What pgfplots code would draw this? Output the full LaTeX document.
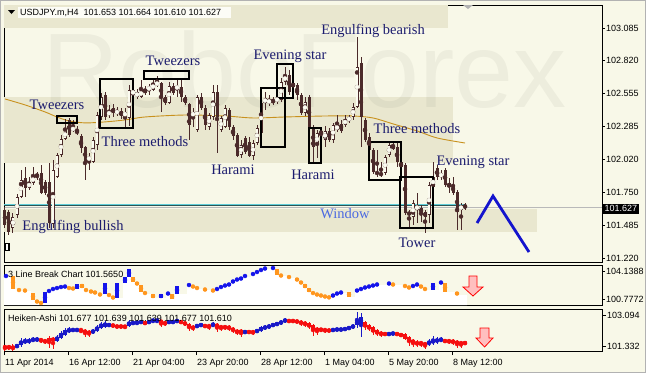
\documentclass[border=0pt]{standalone}
\usepackage{fontspec}
\setmainfont{Liberation Serif}
\setsansfont{Liberation Sans}
\usepackage{pgfplots}
\usepackage{pgfplotstable}
\pgfplotsset{compat=1.18}
\definecolor{bg}{RGB}{248,248,232}
\definecolor{band}{RGB}{233,231,207}
\definecolor{candle}{RGB}{75,42,42}
\definecolor{bullfill}{RGB}{251,251,240}
\definecolor{ann}{RGB}{28,28,110}
\definecolor{win}{RGB}{75,105,225}
\definecolor{ma}{RGB}{200,145,30}
\definecolor{cyanl}{RGB}{95,205,215}
\definecolor{teal2}{RGB}{45,85,85}
\definecolor{lbblue}{RGB}{20,20,235}
\definecolor{lborange}{RGB}{255,150,30}
\definecolor{hablue}{RGB}{25,25,200}
\definecolor{hared}{RGB}{245,15,15}
\definecolor{zz}{RGB}{20,20,205}
\newcommand\lab{\sffamily\fontsize{9}{10}\selectfont}
\newcommand\ann{\rmfamily\fontsize{14.5}{15}\selectfont}

\pgfplotstableread{
i o h l c
0 101.609 101.633 101.463 101.487
1 101.593 101.609 101.406 101.430
2 101.463 101.585 101.422 101.552
3 101.568 101.739 101.544 101.714
4 101.714 101.933 101.706 101.852
5 101.868 101.958 101.714 101.787
6 101.787 101.877 101.771 101.836
7 101.828 101.958 101.812 101.885
8 101.901 101.917 101.852 101.877
9 101.909 101.974 101.739 101.747
10 101.836 101.852 101.731 101.747
11 101.836 101.990 101.463 101.503
12 101.495 102.014 101.463 101.933
13 101.877 102.071 101.868 102.055
14 102.055 102.217 102.039 102.185
15 102.185 102.347 102.177 102.258
16 102.339 102.355 102.201 102.217
17 102.250 102.339 102.241 102.282
18 102.250 102.290 102.217 102.233
19 102.209 102.225 102.071 102.112
20 102.120 102.128 101.852 101.998
21 102.014 102.071 101.933 102.039
22 101.998 102.201 101.990 102.177
23 102.136 102.404 102.095 102.379
24 102.363 102.558 102.339 102.525
25 102.542 102.566 102.339 102.363
26 102.379 102.460 102.355 102.412
27 102.436 102.469 102.363 102.396
28 102.387 102.444 102.371 102.420
29 102.412 102.436 102.347 102.371
30 102.371 102.436 102.282 102.404
31 102.355 102.623 102.290 102.582
32 102.542 102.606 102.501 102.582
33 102.525 102.590 102.509 102.566
34 102.525 102.663 102.517 102.582
35 102.590 102.615 102.542 102.558
36 102.582 102.631 102.542 102.606
37 102.582 102.679 102.574 102.639
38 102.623 102.696 102.606 102.647
39 102.639 102.647 102.404 102.517
40 102.525 102.542 102.460 102.477
41 102.477 102.647 102.469 102.615
42 102.615 102.639 102.542 102.558
43 102.590 102.663 102.525 102.615
44 102.606 102.663 102.485 102.525
45 102.525 102.542 102.460 102.477
46 102.469 102.477 102.177 102.298
47 102.371 102.436 102.282 102.404
48 102.258 102.542 102.241 102.525
49 102.525 102.558 102.420 102.436
50 102.436 102.460 102.258 102.298
51 102.282 102.396 102.258 102.379
52 102.363 102.623 102.339 102.566
53 102.566 102.623 102.071 102.363
54 102.258 102.371 102.241 102.355
55 102.282 102.460 102.274 102.436
56 102.420 102.436 102.258 102.282
57 102.282 102.298 102.177 102.209
58 102.217 102.233 102.039 102.047
59 102.055 102.177 102.031 102.136
60 102.193 102.209 102.063 102.079
61 102.160 102.201 102.039 102.047
62 102.047 102.177 102.014 102.152
63 102.152 102.298 102.136 102.274
64 102.233 102.558 102.209 102.477
65 102.477 102.566 102.420 102.517
66 102.477 102.542 102.452 102.501
67 102.501 102.525 102.460 102.485
68 102.493 102.542 102.469 102.517
69 102.501 102.679 102.485 102.647
70 102.647 102.769 102.623 102.704
71 102.704 102.744 102.542 102.566
72 102.639 102.663 102.582 102.606
73 102.623 102.639 102.501 102.542
74 102.542 102.558 102.379 102.396
75 102.396 102.525 102.371 102.485
76 102.525 102.542 102.258 102.282
77 102.274 102.298 101.998 102.120
78 102.136 102.258 102.031 102.233
79 102.250 102.274 102.177 102.225
80 102.177 102.290 102.120 102.250
81 102.250 102.274 102.160 102.177
82 102.177 102.314 102.152 102.298
83 102.258 102.379 102.241 102.298
84 102.306 102.339 102.233 102.250
85 102.298 102.379 102.282 102.347
86 102.331 102.379 102.314 102.363
87 102.363 102.477 102.339 102.444
88 102.444 103.012 102.436 102.769
89 102.801 102.850 102.120 102.363
90 102.339 102.355 102.160 102.177
91 102.201 102.233 102.087 102.095
92 102.095 102.112 101.901 101.917
93 101.917 102.095 101.877 101.901
94 101.909 101.998 101.877 101.893
95 101.909 102.055 101.893 102.039
96 102.055 102.152 102.039 102.136
97 102.136 102.160 102.095 102.104
98 102.120 102.152 101.958 101.998
99 101.998 102.014 101.933 101.958
100 101.974 101.990 101.568 101.585
101 101.593 101.609 101.471 101.568
102 101.552 101.690 101.487 101.666
103 101.609 101.747 101.503 101.649
104 101.625 101.649 101.512 101.585
105 101.593 101.609 101.422 101.552
106 101.568 101.836 101.503 101.812
107 101.795 101.998 101.633 101.877
108 101.950 101.974 101.852 101.877
109 101.877 101.933 101.852 101.909
110 101.933 101.950 101.795 101.812
111 101.828 101.868 101.747 101.795
112 101.812 101.877 101.731 101.747
113 101.755 101.771 101.447 101.593
114 101.609 101.666 101.447 101.649
115 101.653 101.664 101.610 101.627
}\maindata

\pgfplotstableread{
i o h l c
0 101.332 101.389 101.048 101.218
1 101.332 101.389 101.105 101.218
2 101.275 101.446 101.048 101.161
3 101.275 101.446 101.218 101.389
4 101.389 101.787 101.275 101.616
5 101.502 101.787 101.446 101.673
6 101.559 101.787 101.446 101.673
7 101.616 101.844 101.559 101.730
8 101.673 101.844 101.559 101.730
9 101.730 101.787 101.502 101.616
10 101.673 101.730 101.446 101.559
11 101.787 101.900 101.218 101.559
12 101.787 101.844 101.161 101.616
13 101.616 101.957 101.559 101.844
14 101.787 102.185 101.730 102.071
15 101.957 102.355 101.900 102.241
16 102.128 102.412 102.071 102.298
17 102.185 102.355 102.128 102.298
18 102.185 102.355 102.128 102.298
19 102.298 102.298 102.071 102.185
20 102.241 102.298 101.844 102.071
21 102.185 102.241 101.844 102.014
22 102.071 102.298 102.014 102.241
23 102.185 102.526 102.128 102.412
24 102.355 102.696 102.298 102.582
25 102.412 102.753 102.355 102.639
26 102.469 102.639 102.412 102.582
27 102.526 102.582 102.412 102.469
28 102.469 102.526 102.355 102.412
29 102.469 102.526 102.355 102.412
30 102.469 102.526 102.298 102.412
31 102.469 102.810 102.412 102.696
32 102.582 102.753 102.526 102.696
33 102.582 102.810 102.526 102.696
34 102.639 102.810 102.582 102.753
35 102.696 102.753 102.526 102.582
36 102.639 102.810 102.582 102.753
37 102.696 102.923 102.639 102.810
38 102.696 102.923 102.639 102.810
39 102.810 102.810 102.412 102.639
40 102.696 102.753 102.469 102.582
41 102.639 102.810 102.582 102.753
42 102.639 102.810 102.582 102.753
43 102.696 102.867 102.639 102.810
44 102.753 102.810 102.582 102.639
45 102.696 102.753 102.469 102.526
46 102.582 102.639 102.185 102.355
47 102.469 102.526 102.185 102.298
48 102.412 102.582 102.355 102.526
49 102.469 102.639 102.412 102.582
50 102.526 102.582 102.355 102.412
51 102.526 102.582 102.241 102.412
52 102.469 102.696 102.412 102.582
53 102.582 102.639 102.128 102.412
54 102.469 102.526 102.185 102.355
55 102.469 102.526 102.241 102.355
56 102.469 102.526 102.185 102.298
57 102.355 102.412 102.071 102.185
58 102.241 102.298 101.957 102.071
59 102.241 102.298 101.844 102.071
60 102.071 102.241 102.014 102.185
61 102.185 102.241 102.014 102.071
62 102.185 102.241 101.957 102.071
63 102.128 102.298 102.071 102.241
64 102.185 102.469 102.128 102.412
65 102.298 102.526 102.241 102.469
66 102.355 102.582 102.298 102.526
67 102.469 102.639 102.412 102.582
68 102.526 102.696 102.469 102.639
69 102.582 102.810 102.526 102.753
70 102.696 102.923 102.639 102.867
71 102.810 102.867 102.639 102.696
72 102.810 102.867 102.639 102.696
73 102.753 102.810 102.639 102.696
74 102.753 102.810 102.469 102.582
75 102.696 102.753 102.412 102.526
76 102.639 102.696 102.298 102.412
77 102.526 102.582 101.900 102.241
78 102.355 102.412 101.957 102.185
79 102.298 102.355 102.128 102.241
80 102.298 102.355 102.071 102.185
81 102.241 102.298 102.128 102.185
82 102.185 102.355 102.128 102.298
83 102.241 102.355 102.185 102.298
84 102.241 102.355 102.185 102.298
85 102.241 102.412 102.185 102.355
86 102.298 102.469 102.241 102.412
87 102.355 102.582 102.298 102.526
88 102.526 103.265 102.355 102.810
89 102.582 103.208 101.844 102.980
90 102.696 102.753 102.241 102.412
91 102.526 102.582 102.185 102.298
92 102.412 102.469 101.957 102.128
93 102.241 102.298 101.900 102.014
94 102.128 102.185 101.844 101.957
95 102.071 102.128 101.900 101.957
96 101.957 102.128 101.900 102.071
97 102.014 102.128 101.957 102.071
98 102.071 102.128 101.900 101.957
99 102.014 102.071 101.844 101.900
100 102.014 102.071 101.673 101.730
101 101.844 101.900 101.332 101.559
102 101.673 101.730 101.275 101.502
103 101.559 101.673 101.275 101.446
104 101.559 101.616 101.275 101.446
105 101.502 101.559 101.161 101.389
106 101.446 101.730 101.332 101.559
107 101.502 101.900 101.389 101.673
108 101.559 101.844 101.446 101.730
109 101.616 101.844 101.559 101.730
110 101.673 101.730 101.502 101.559
111 101.673 101.730 101.446 101.559
112 101.673 101.730 101.389 101.502
113 101.616 101.673 101.218 101.446
114 101.559 101.616 101.218 101.446
115 101.559 101.616 101.389 101.446
}\hadata

\pgfplotstableread{
i top bot t
0.25 103.659 103.419 1
2 103.539 101.978 0
3.5 101.978 101.738 0
5 101.858 101.738 0
7 101.498 100.658 0
8 100.658 100.297 0
9 100.417 100.177 0
10 101.618 100.297 1
11 101.858 101.618 1
12 102.098 101.858 1
13 102.218 101.978 1
14 102.338 102.098 1
15 102.338 102.218 1
16 102.218 101.978 0
17 102.098 101.978 0
18 102.578 101.978 1
19.25 102.578 102.098 0
20.25 101.978 101.738 0
21.5 101.858 101.498 0
22.5 101.738 101.378 0
23.75 101.378 101.258 0
25 102.698 101.378 1
26 101.378 101.138 0
27 101.138 100.778 0
28 102.698 100.898 1
30 103.419 102.698 1
31 104.379 103.419 1
32 103.419 102.818 0
33 102.818 102.458 0
34 102.458 101.618 0
35 101.618 101.378 0
37 101.378 100.898 0
39 101.378 100.898 1
40.75 101.498 101.378 1
41.75 101.378 100.778 0
43 102.338 101.378 1
46 102.578 102.338 1
47 102.338 102.218 0
48 102.218 101.978 0
50 101.978 101.858 0
52 101.858 101.738 0
53 102.098 101.858 1
54 102.338 102.098 1
55 102.458 102.338 1
56 102.698 102.338 1
57 103.058 102.698 1
58 103.179 103.058 1
59 103.419 103.058 1
60 103.659 103.419 1
62 103.899 103.659 1
63 104.139 103.899 1
64 104.379 104.139 1
65 104.499 104.379 1
67 104.619 104.379 1
68 104.379 103.659 0
69 103.659 103.539 0
71 103.539 103.299 0
73 103.299 102.938 0
74 102.938 102.578 0
75 102.578 102.098 0
76 102.098 101.618 0
77 101.618 101.378 0
78 101.378 101.258 0
79 101.258 101.138 0
80 101.138 101.018 0
81 101.018 100.934 0
82 101.378 101.018 1
83 101.498 101.378 1
84 101.618 101.498 1
86 101.618 101.018 0
88 101.978 101.618 1
89 102.098 101.858 1
90 102.218 102.098 1
91 102.338 102.218 1
92 102.458 102.338 1
93 102.578 102.458 1
96 102.698 102.578 1
97 102.578 102.458 0
100 102.458 102.218 0
101 102.218 102.098 0
102 102.458 102.218 1
103 102.578 102.458 1
104 102.458 102.098 0
105 102.098 101.858 0
107 102.698 101.858 1
109 102.818 102.698 1
110 102.698 101.618 0
113 101.618 101.258 0
}\lbdata

\pgfplotsset{panel/.style={scale only axis, width=598pt, xmin=-0.25, xmax=149.25,
  axis line style={line width=0.9pt, black}, tick align=outside,
  ytick pos=right, yticklabel pos=right, xtick=\empty, major tick length=3pt,
  every tick/.style={black, line width=0.6pt},
  yticklabel style={font=\lab, inner sep=1pt},
  axis background/.style={fill=bg}},
  wick/.style={only marks, mark=none, error bars/.cd, y dir=both, y explicit, error mark=none}}

\begin{document}
\begin{tikzpicture}
\path[use as bounding box] (0pt,0pt) rectangle (646pt,-373pt);
\fill[bg] (0pt,0pt) rectangle (646pt,-373pt);
\draw[gray!60, line width=1pt] (0.5pt,-0.5pt) rectangle (645.5pt,-372.5pt);

% ---------------- main price panel ----------------
\begin{axis}[panel, height=257pt, at={(4pt,-262pt)}, anchor=south west,
  ymin=101.187, ymax=103.271, clip=false,
  ytick={101.220,101.485,101.750,102.020,102.285,102.555,102.820,103.085},
  yticklabels={101.220,101.485,101.750,102.020,102.285,102.555,102.820,103.085}]
\fill[band] (axis cs:-0.25,103.085) rectangle (axis cs:110.75,103.271);
\fill[band] (axis cs:-0.25,101.990) rectangle (axis cs:112,102.525);
\fill[band] (axis cs:-0.25,101.430) rectangle (axis cs:132.9,101.617);
\node[anchor=base west, font=\sffamily\fontsize{106}{106}\selectfont, text=black, text opacity=0.045, inner sep=0pt] at (axis cs:9.25,102.436) {RoboForex};
\addplot[cyanl, line width=1pt] coordinates {(-0.25,101.655) (115.25,101.655)};
\addplot[teal2, line width=0.5pt] coordinates {(-0.25,101.645) (115.25,101.645)};
\addplot[gray!55, line width=0.6pt] coordinates {(-0.25,101.627) (149.25,101.627)};
\addplot[ma, line width=0.9pt, smooth] coordinates {(0,102.509) (5,102.461) (10,102.404) (13,102.363) (16,102.331) (20,102.315) (25,102.323) (30,102.339) (35,102.363) (45,102.379) (55,102.371) (62,102.355) (70,102.363) (80,102.371) (87,102.371) (92,102.355) (97,102.307) (103,102.250) (108,102.193) (115,102.152)};
% wicks
\addplot[candle, wick, error bar style={line width=1pt, candle}]
  table[x=i, y expr={(\thisrow{h}+\thisrow{l})/2}, y error expr={(\thisrow{h}-\thisrow{l})/2}] {\maindata};
% bear bodies
\addplot[candle, restrict expr to domain={\thisrow{o}-\thisrow{c}}{0:5}, wick, error bar style={line width=3pt, candle}]
  table[x=i, y expr={(\thisrow{o}+\thisrow{c})/2}, y error expr={max(abs(\thisrow{c}-\thisrow{o})/2,0.004)}] {\maindata};
% bull bodies
\addplot[candle, restrict expr to domain={\thisrow{c}-\thisrow{o}}{0:5}, wick, error bar style={line width=3pt, candle}]
  table[x=i, y expr={(\thisrow{o}+\thisrow{c})/2}, y error expr={max(abs(\thisrow{c}-\thisrow{o})/2,0.004)}] {\maindata};
\addplot[bullfill, restrict expr to domain={\thisrow{c}-\thisrow{o}}{0:5}, wick, error bar style={line width=1.1pt, bullfill}]
  table[x=i, y expr={(\thisrow{o}+\thisrow{c})/2}, y error expr={max(abs(\thisrow{c}-\thisrow{o})/2-0.008,0)}] {\maindata};
% pattern boxes
\begin{scope}[black, line width=1.6pt]
\draw (axis cs:13,102.314) rectangle (axis cs:18,102.371);
\draw (axis cs:23.75,102.274) rectangle (axis cs:32,102.671);
\draw (axis cs:34.75,102.671) rectangle (axis cs:46,102.736);
\draw (axis cs:64,102.120) rectangle (axis cs:70,102.598);
\draw (axis cs:68,102.517) rectangle (axis cs:72,102.793);
\draw (axis cs:76,101.990) rectangle (axis cs:79,102.274);
\draw (axis cs:91,101.852) rectangle (axis cs:99,102.160);
\draw (axis cs:98.75,101.463) rectangle (axis cs:107,101.877);
\end{scope}
% labels
\begin{scope}[every node/.style={font=\ann, text=ann, inner sep=0pt, anchor=base}]
\node at (axis cs:13,102.420) {Tweezers};
\node at (axis cs:35,102.120) {Three methods};
\node at (axis cs:42,102.777) {Tweezers};
\node at (axis cs:57,101.893) {Harami};
\node at (axis cs:71.25,102.833) {Evening star};
\node at (axis cs:77,101.860) {Harami};
\node at (axis cs:17,101.439) {Engulfing bullish};
\node at (axis cs:92,103.032) {Engulfing bearish};
\node at (axis cs:103,102.225) {Three methods};
\node at (axis cs:117,101.970) {Evening star};
\node[text=win] at (axis cs:85,101.536) {Window};
\node at (axis cs:103,101.301) {Tower};
\end{scope}
\draw[zz, line width=2.8pt] (axis cs:118,101.503) -- (axis cs:122,101.722) -- (axis cs:131,101.268);
\end{axis}
% title & decorations of main panel
\fill[white!60!bg] (18pt,-7pt) rectangle (231pt,-18pt);
\node[anchor=west, font=\lab, inner sep=0pt] at (20pt,-12.5pt) {USDJPY.m,H4\ \ 101.653 101.664 101.610 101.627};
\fill[black] (8pt,-10pt) -- (15pt,-10pt) -- (11.5pt,-14pt) -- cycle;
\fill[gray!60] (463pt,-5pt) -- (473pt,-5pt) -- (468pt,-9pt) -- cycle;
\draw[black, line width=1.3pt, fill=white] (5.5pt,-243.5pt) rectangle (9pt,-250.5pt);
\node[fill=black, text=white, font=\lab, inner sep=1.5pt, anchor=west, minimum height=10pt] at (603pt,-208.5pt) {101.627};

% ---------------- 3 line break panel ----------------
\begin{axis}[panel, height=40pt, at={(4pt,-305pt)}, anchor=south west,
  ymin=100.057, ymax=104.859,
  ytick={100.7772,104.1388}, yticklabels={100.7772,104.1388}]
\addplot[fill=white, draw=none, const plot mark left] table[x=i, y=v] {
i v
-0.25 103.419
1.5 101.978
3 101.738
4.5 101.738
6.5 100.658
7.5 100.297
8.5 100.177
9.5 100.297
10.5 101.618
11.5 101.858
12.5 101.978
13.5 102.098
14.5 102.218
15.5 101.978
18.75 102.098
19.75 101.738
21 101.498
22 101.378
23.25 101.258
24.5 101.378
25.5 101.138
26.5 100.778
27.5 100.898
29.5 102.698
30.5 103.419
31.5 102.818
32.5 102.458
33.5 101.618
34.5 101.378
36.5 100.898
40.25 101.378
41.25 100.778
42.5 101.378
45.5 102.338
46.5 102.218
47.5 101.978
49.5 101.858
51.5 101.738
52.5 101.858
53.5 102.098
54.5 102.338
56.5 102.698
57.5 103.058
59.5 103.419
61.5 103.659
62.5 103.899
63.5 104.139
64.5 104.379
67.5 103.659
68.5 103.539
70.5 103.299
72.5 102.938
73.5 102.578
74.5 102.098
75.5 101.618
76.5 101.378
77.5 101.258
78.5 101.138
79.5 101.018
80.5 100.934
81.5 101.018
82.5 101.378
83.5 101.498
85.5 101.018
87.5 101.618
88.5 101.858
89.5 102.098
90.5 102.218
91.5 102.338
92.5 102.458
95.5 102.578
96.5 102.458
99.5 102.218
100.5 102.098
101.5 102.218
102.5 102.458
103.5 102.098
104.5 101.858
106.5 101.858
108.5 102.698
109.5 101.618
112.5 101.258
115.5 101.258
} \closedcycle;
\addplot[lbblue, restrict expr to domain={\thisrow{t}}{0.5:1.5}, wick, error bar style={line width=3.8pt, lbblue}]
  table[x=i, y expr={(\thisrow{top}+\thisrow{bot})/2}, y error expr={max((\thisrow{top}-\thisrow{bot})/2,0.12)}] {\lbdata};
\addplot[lborange, restrict expr to domain={\thisrow{t}}{-0.5:0.5}, wick, error bar style={line width=3.8pt, lborange}]
  table[x=i, y expr={(\thisrow{top}+\thisrow{bot})/2}, y error expr={max((\thisrow{top}-\thisrow{bot})/2,0.12)}] {\lbdata};
\draw[red, fill=red!25, line width=0.8pt] (axis cs:116,103.539) -- (axis cs:118,103.539) -- (axis cs:118,102.218) -- (axis cs:119.5,102.218) -- (axis cs:117,101.138) -- (axis cs:114.5,102.218) -- (axis cs:116,102.218) -- cycle;
\end{axis}
\node[anchor=west, font=\lab, inner sep=0pt] at (8pt,-274.5pt) {3 Line Break Chart 101.5650};

% ---------------- Heiken-Ashi panel ----------------
\begin{axis}[panel, height=42pt, at={(4pt,-351pt)}, anchor=south west,
  ymin=101.048, ymax=103.435,
  ytick={101.332,103.094}, yticklabels={101.332,103.094},
  xtick={-0.25,15.75,31.75,47.75,63.75,79.75,95.75,111.75},
  xticklabels={11 Apr 2014,16 Apr 12:00,21 Apr 04:00,23 Apr 20:00,28 Apr 12:00,1 May 04:00,5 May 20:00,8 May 12:00},
  xtick pos=bottom, major tick length=4pt, xticklabel style={font=\lab, anchor=north west, inner sep=1pt, yshift=-3.5pt}]
\addplot[hablue, restrict expr to domain={\thisrow{c}-\thisrow{o}}{0:5}, wick, error bar style={line width=1pt, hablue}]
  table[x=i, y expr={(\thisrow{h}+\thisrow{l})/2}, y error expr={(\thisrow{h}-\thisrow{l})/2}] {\hadata};
\addplot[hared, restrict expr to domain={\thisrow{o}-\thisrow{c}}{0:5}, wick, error bar style={line width=1pt, hared}]
  table[x=i, y expr={(\thisrow{h}+\thisrow{l})/2}, y error expr={(\thisrow{h}-\thisrow{l})/2}] {\hadata};
\addplot[hablue, restrict expr to domain={\thisrow{c}-\thisrow{o}}{0:5}, wick, error bar style={line width=3.2pt, hablue}]
  table[x=i, y expr={(\thisrow{o}+\thisrow{c})/2}, y error expr={max(abs(\thisrow{c}-\thisrow{o})/2,0.06)}] {\hadata};
\addplot[hared, restrict expr to domain={\thisrow{o}-\thisrow{c}}{0:5}, wick, error bar style={line width=3.2pt, hared}]
  table[x=i, y expr={(\thisrow{o}+\thisrow{c})/2}, y error expr={max(abs(\thisrow{c}-\thisrow{o})/2,0.06)}] {\hadata};
\draw[red, fill=red!25, line width=0.8pt] (axis cs:118.75,102.355) -- (axis cs:121,102.355) -- (axis cs:121,101.787) -- (axis cs:122,101.787) -- (axis cs:119.9,101.275) -- (axis cs:117.75,101.787) -- (axis cs:118.75,101.787) -- cycle;
\end{axis}
\node[anchor=west, font=\lab, inner sep=0pt] at (8pt,-318.5pt) {Heiken-Ashi 101.677 101.639 101.639 101.677 101.610};
\end{tikzpicture}
\end{document}
